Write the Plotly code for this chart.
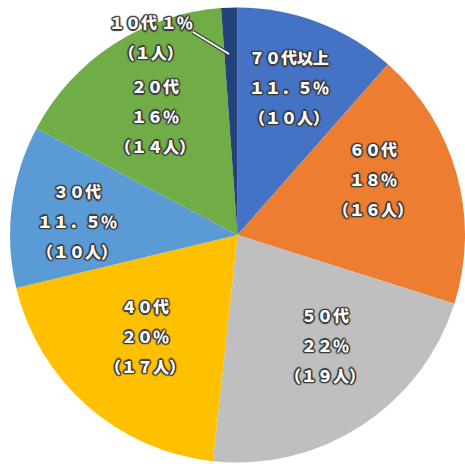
import math
import plotly.graph_objects as go

# ---- data ----
categories = ["７０代以上", "６０代", "５０代", "４０代", "３０代", "２０代", "１０代"]
counts = [10, 16, 19, 17, 10, 14, 1]
count_labels = ["１０", "１６", "１９", "１７", "１０", "１４", "１"]
pct_labels = ["１１．５％", "１８％", "２２％", "２０％", "１１．５％", "１６％", "１％"]
colors = ["#4472C4", "#ED7D31", "#BFBFBF", "#FFC000", "#5B9BD5", "#70AD47", "#23417A"]

# label placement style (radius fraction, angle nudge in degrees) per slice
label_radius = [0.683, 0.641, 0.620, 0.604, 0.706, 0.632]
label_nudge = [-1.4, -6.6, -5.2, 0.8, -2.6, -1.9]

W, H = 465, 464
# pie domain in pixels (left, right, top, bottom)
L, R_, T, B = 10, 465, 7, 463

fig = go.Figure(go.Pie(
    labels=categories,
    values=counts,
    sort=False,
    direction="clockwise",
    rotation=0,
    marker=dict(colors=colors, line=dict(width=0)),
    textinfo="none",
    hoverinfo="label+value+percent",
    showlegend=False,
    domain=dict(x=[L / W, R_ / W], y=[1 - B / H, 1 - T / H]),
))

cx = (L + R_) / 2
cy = (T + B) / 2
rad = min(R_ - L, B - T) / 2

oc = "#3c3c3c"
shadow = ", ".join("%s %s 1px %s" % (a, b, oc)
                   for a, b in [("1px", "1px"), ("-1px", "-1px"), ("1px", "-1px"),
                                ("-1px", "1px"), ("0px", "1.5px"), ("0px", "-1.5px"),
                                ("1.5px", "0px"), ("-1.5px", "0px")])
base_font = dict(family="Noto Sans CJK JP, Noto Sans, sans-serif", size=23,
                 color="white", weight=900, shadow=shadow)


def label_html(lines):
    return "<br>".join('<span style="font-size:16px">%s</span>' % s for s in lines)


total = sum(counts)
cum = 0
annotations = []
for i, (cat, n, nl, p) in enumerate(zip(categories, counts, count_labels, pct_labels)):
    mid = (cum + n / 2) / total * 360
    cum += n
    if i >= len(label_radius):
        continue
    ang = math.radians(mid + label_nudge[i])
    f = label_radius[i]
    px = cx + f * rad * math.sin(ang)
    py = cy - f * rad * math.cos(ang) - 1
    annotations.append(dict(
        x=px / W, y=1 - py / H, xref="paper", yref="paper",
        text=label_html([cat, p, "（%s人）" % nl]),
        showarrow=False, font=base_font, xanchor="center", yanchor="middle",
    ))

# small slice (10代) labelled outside with a leader line
annotations.append(dict(
    x=151 / W, y=1 - 37 / H, xref="paper", yref="paper",
    text=label_html(["%s %s" % (categories[-1], pct_labels[-1]),
                     "（%s人）" % count_labels[-1]]),
    showarrow=False, font=base_font, xanchor="center", yanchor="middle",
))

shapes = [
    dict(type="line", xref="paper", yref="paper",
         x0=193 / W, y0=1 - 32 / H, x1=229 / W, y1=1 - 54 / H,
         line=dict(color=oc, width=4)),
    dict(type="line", xref="paper", yref="paper",
         x0=193 / W, y0=1 - 32 / H, x1=229 / W, y1=1 - 54 / H,
         line=dict(color="white", width=2)),
]

fig.update_layout(
    width=W, height=H,
    margin=dict(l=0, r=0, t=0, b=0),
    paper_bgcolor="white",
    annotations=annotations,
    shapes=shapes,
)

fig.write_html("out.html", config={"displayModeBar": False},
               post_script="document.body.style.margin='0';")
